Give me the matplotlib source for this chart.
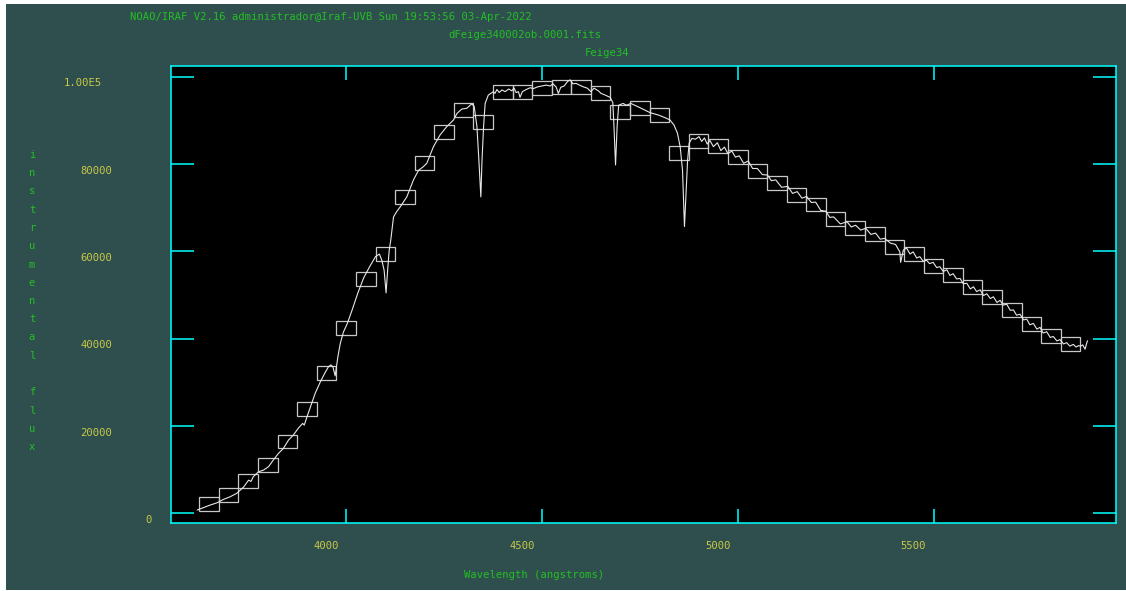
import matplotlib

matplotlib.use("Agg")
import matplotlib.pyplot as plt
from matplotlib.patches import Rectangle


BG_COLOR = "#2f4f4f"
FRAME_COLOR = "#00ffff"
TITLE_COLOR = "#22c022"
TICK_COLOR = "#c8c846"
LINE_COLOR = "#e8e8e8"
BOX_COLOR = "#c8c8c8"
FONT = "DejaVu Sans Mono"
FONT_SIZE = 7.6

TITLE_LINES = [
    "NOAO/IRAF V2.16 administrador@Iraf-UVB Sun 19:53:56 03-Apr-2022",
    "dFeige340002ob.0001.fits",
    "Feige34",
]
X_LABEL = "Wavelength (angstroms)"
Y_LABEL = "instrumental flux"

X_TICKS = [4000, 4500, 5000, 5500]
X_TICK_LABELS = ["4000", "4500", "5000", "5500"]
Y_TICKS = [0, 20000, 40000, 60000, 80000, 100000]
Y_TICK_LABELS = ["0", "20000", "40000", "60000", "80000", "1.00E5"]

# spectrum (angstroms, counts)
WAVE = [
    3620, 3636, 3653, 3670, 3687, 3704, 3721, 3738, 3751, 3757,
    3763, 3776, 3789, 3802, 3814, 3827, 3840, 3853, 3865, 3878,
    3889, 3893, 3900, 3912, 3921, 3934, 3946, 3955, 3961, 3966,
    3972, 3976, 3979, 3985, 3993, 4003, 4015, 4030, 4045, 4060,
    4075, 4085, 4091, 4097, 4102, 4106, 4110, 4114, 4121, 4129,
    4138, 4155, 4172, 4185, 4197, 4206, 4223, 4240, 4257, 4274,
    4283, 4295, 4308, 4321, 4327, 4334, 4339, 4344, 4347, 4351,
    4355, 4363, 4376, 4380, 4385, 4391, 4398, 4406, 4415, 4423,
    4429, 4434, 4440, 4444, 4450, 4460, 4470, 4478, 4489, 4500,
    4511, 4521, 4528, 4536, 4542, 4548, 4557, 4565, 4572, 4579,
    4587, 4596, 4606, 4616, 4625, 4633, 4644, 4651, 4662, 4674,
    4681, 4684, 4688, 4692, 4696, 4707, 4716, 4727, 4744, 4762,
    4776, 4799, 4818, 4827, 4837, 4846, 4853, 4859, 4864, 4868,
    4872, 4876, 4883, 4892, 4901, 4908, 4915, 4922, 4929, 4938,
    4948, 4957, 4966, 4975, 4985, 4994, 5004, 5015, 5027, 5038,
    5050, 5063, 5076, 5086, 5097, 5112, 5128, 5140, 5152, 5164,
    5176, 5188, 5199, 5212, 5225, 5235, 5245, 5262, 5279, 5290,
    5301, 5314, 5327, 5340, 5352, 5364, 5375, 5390, 5403, 5414,
    5416, 5423, 5431, 5440, 5448, 5457, 5465, 5474, 5482, 5490,
    5499, 5508, 5516, 5525, 5534, 5542, 5550, 5559, 5568, 5576,
    5585, 5594, 5602, 5610, 5619, 5628, 5636, 5645, 5653, 5662,
    5670, 5678, 5687, 5696, 5704, 5712, 5721, 5730, 5738, 5746,
    5755, 5764, 5772, 5780, 5789, 5798, 5806, 5815, 5823, 5832,
    5840, 5848, 5857, 5864, 5870, 5876, 5881, 5887, 5890, 5893,
]
FLUX = [
    760, 1300, 1900, 2400, 3200, 3800, 4600, 6000, 7600, 7300,
    8400, 9500, 9900, 10700, 12200, 13700, 14900, 16800, 17900, 19500,
    20600, 20200, 22100, 25200, 27500, 30100, 32200, 33600, 34000, 33600,
    31500, 34000, 35900, 38900, 41500, 43500, 46500, 50500, 54000, 56500,
    58800, 59400, 58000, 55700, 50500, 55700, 60300, 62600, 67900, 69100,
    70200, 72500, 76400, 78600, 79400, 80200, 84000, 86700, 88600, 90100,
    91600, 92600, 92800, 93800, 93200, 88600, 80900, 72500, 80900, 88600,
    93900, 95800, 96600, 96200, 97100, 96400, 97000, 96600, 97200, 96800,
    97400, 96400, 96600, 95300, 96600, 97100, 97500, 97300, 97700, 97900,
    98100, 97900, 98400, 97700, 96200, 97600, 97900, 98900, 99300, 98400,
    98500, 98100, 97700, 97400, 96600, 97400, 96800, 96200, 95800, 95300,
    94100, 88600, 79800, 88600, 93500, 93900, 93500, 93900, 93200, 92400,
    91800, 91200, 90500, 90100, 89000, 87100, 84000, 78600, 65700, 73300,
    80900, 84800, 85900, 85700, 86300, 85200, 86000, 84600, 85400, 84000,
    84900, 83100, 83900, 82400, 83000, 81600, 81900, 80200, 80700, 79000,
    79000, 77600, 77500, 76200, 76400, 74700, 74900, 73300, 73700, 72200,
    72600, 71200, 71300, 69400, 69200, 67800, 67900, 66300, 66800, 65600,
    66000, 64900, 65300, 63900, 64200, 62800, 63000, 61900, 61600, 59900,
    57500, 60300, 60800, 59400, 59900, 58500, 58800, 57700, 58000, 57200,
    57500, 56300, 56500, 55400, 55800, 54500, 54900, 53700, 53800, 52600,
    52700, 51400, 51900, 50800, 51200, 49900, 50300, 49200, 49600, 48300,
    48800, 47700, 47900, 46500, 46600, 45400, 45600, 44300, 44500, 43200,
    43500, 42200, 42600, 41300, 41600, 40300, 40500, 39500, 39800, 38800,
    39100, 38300, 38700, 38100, 38400, 38300, 38600, 37600, 38600, 39500,
]

# standard star bandpasses (centre, mean counts)
BAND_CENTER = [
    3650, 3700, 3750, 3800, 3850, 3900, 3950, 4000, 4050, 4100,
    4150, 4200, 4250, 4300, 4350, 4400, 4450, 4500, 4550, 4600,
    4650, 4700, 4750, 4800, 4850, 4900, 4950, 5000, 5050, 5100,
    5150, 5200, 5250, 5300, 5350, 5400, 5450, 5500, 5550, 5600,
    5650, 5700, 5750, 5800, 5850,
]
BAND_FLUX = [
    2100, 4150, 7450, 11000, 16450, 23800, 32150, 42550, 53700, 59400,
    72550, 80300, 87300, 92350, 89600, 96600, 96450, 97350, 97750, 97750,
    96200, 91900, 92800, 91200, 82500, 85200, 84100, 81600, 78500, 75600,
    72900, 70750, 67400, 65450, 64100, 61100, 59500, 56750, 54600, 51900,
    49600, 46600, 43300, 40550, 38750,
]
BAND_WIDTH = 50
BOX_HEIGHT = 3200

# label right edges, pixels left of the frame
Y_LABEL_SHIFT = [-18.7, -58.7, -58.7, -58.7, -58.7, -68.7]


def fig_xy(px, py):
    return px / 1126, 1 - py / 591


def main():
    fig = plt.figure(figsize=(11.26, 5.91), dpi=100)
    fig.patch.set_facecolor("white")
    fig.patches.append(
        Rectangle(
            (6 / 1126, 1 / 591),
            1120 / 1126,
            586 / 591,
            transform=fig.transFigure,
            facecolor=BG_COLOR,
            edgecolor="none",
            zorder=-10,
        )
    )

    ax = fig.add_axes([170.7 / 1126, 1 - 522.7 / 591, 945.3 / 1126, 456.7 / 591])
    ax.set_zorder(1)
    ax.set_facecolor("black")

    ax.plot(WAVE, FLUX, color=LINE_COLOR, linewidth=0.8, zorder=3)
    for wc, fl in zip(BAND_CENTER, BAND_FLUX):
        ax.add_patch(
            Rectangle(
                (wc - BAND_WIDTH / 2, fl - BOX_HEIGHT / 2),
                BAND_WIDTH,
                BOX_HEIGHT,
                facecolor="none",
                edgecolor=BOX_COLOR,
                linewidth=0.9,
                zorder=2,
            )
        )

    ax.set_xlim(3552, 5966)
    ax.set_ylim(-2150, 102480)

    for side in ax.spines.values():
        side.set_color(FRAME_COLOR)
        side.set_linewidth(1.1)

    ax.set_xticks(X_TICKS)
    ax.set_yticks(Y_TICKS)
    ax.tick_params(
        axis="x", direction="in", length=10, width=1.1, color=FRAME_COLOR,
        top=True, bottom=True, labelbottom=False,
    )
    ax.tick_params(
        axis="y", direction="in", length=16.5, width=1.1, color=FRAME_COLOR,
        left=True, right=True, labelleft=False,
    )

    for val, lab in zip(X_TICKS, X_TICK_LABELS):
        ax.annotate(
            lab, xy=(val, 0), xycoords=("data", "axes fraction"),
            xytext=(-20, -23.5), textcoords="offset pixels",
            ha="center", va="center", color=TICK_COLOR,
            family=FONT, fontsize=FONT_SIZE, annotation_clip=False,
        )
    for val, lab, dx in zip(Y_TICKS, Y_TICK_LABELS, Y_LABEL_SHIFT):
        ax.annotate(
            lab, xy=(0, val), xycoords=("axes fraction", "data"),
            xytext=(dx, -6.5), textcoords="offset pixels",
            ha="right", va="center", color=TICK_COLOR,
            family=FONT, fontsize=FONT_SIZE, annotation_clip=False,
        )

    title_pos = [(130, 17), (448, 35.5), (585, 53)]
    for line, (px, py) in zip(TITLE_LINES, title_pos):
        fig.text(*fig_xy(px, py), line, ha="left", va="center",
                 color=TITLE_COLOR, family=FONT, fontsize=FONT_SIZE)

    fig.text(*fig_xy(464, 574.5), X_LABEL, ha="left", va="center",
             color=TITLE_COLOR, family=FONT, fontsize=FONT_SIZE)

    for i, ch in enumerate(Y_LABEL):
        if ch == " ":
            continue
        fig.text(*fig_xy(32, 155 + i * 18.25), ch, ha="center", va="center",
                 color=TITLE_COLOR, family=FONT, fontsize=FONT_SIZE)

    fig.savefig("out.png", dpi=100, facecolor=fig.get_facecolor())
    plt.close(fig)


if __name__ == "__main__":
    main()
